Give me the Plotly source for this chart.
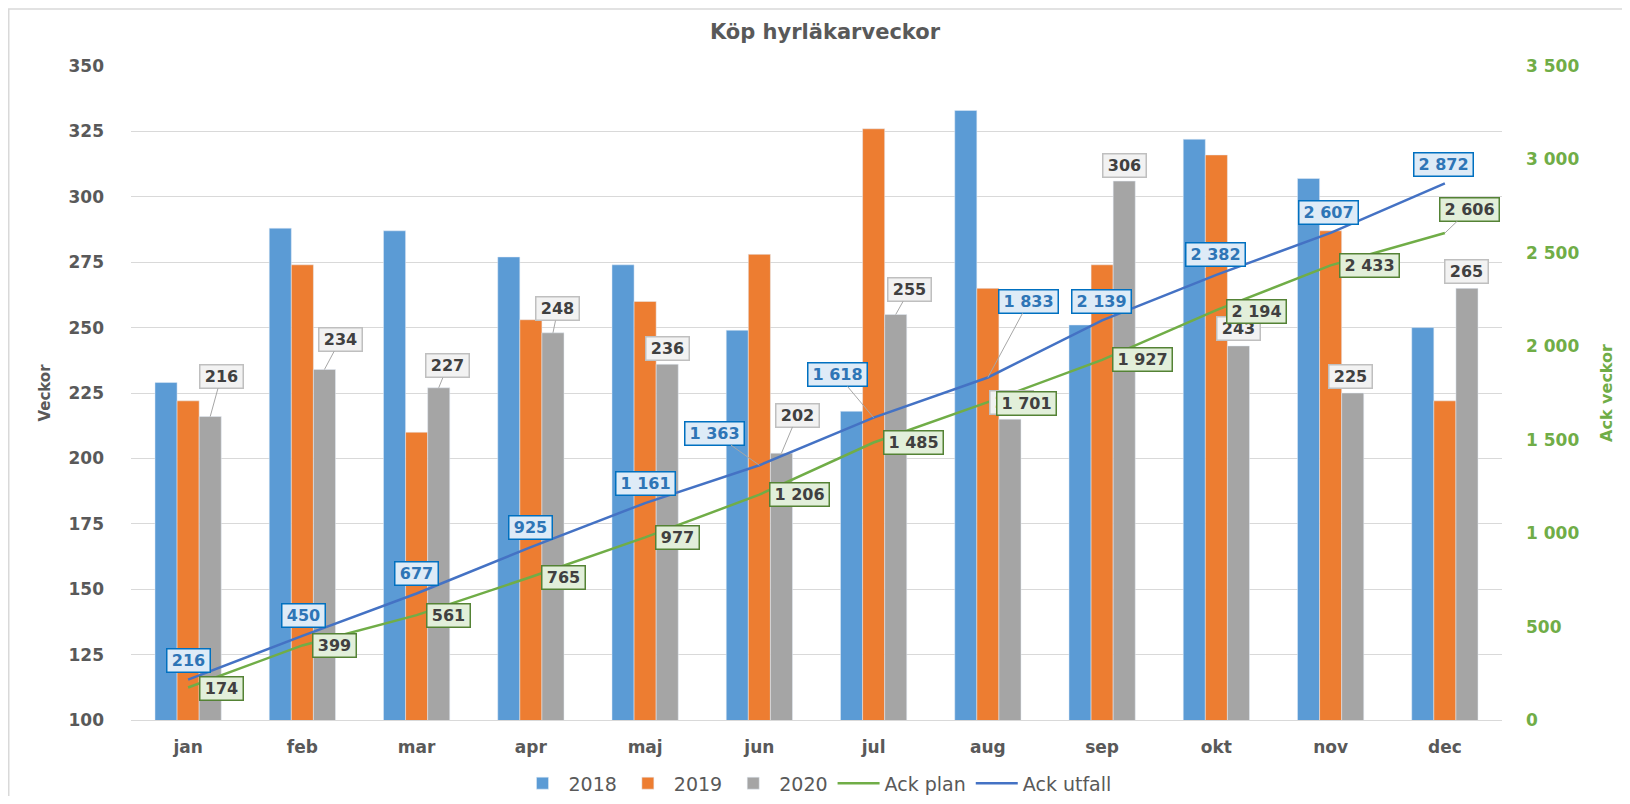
import plotly.graph_objects as go

# ---------------- data ----------------
months = ["jan", "feb", "mar", "apr", "maj", "jun", "jul", "aug", "sep", "okt", "nov", "dec"]
v2018 = [229, 288, 287, 277, 274, 249, 218, 333, 251, 322, 307, 250]
v2019 = [222, 274, 210, 253, 260, 278, 326, 265, 274, 316, 287, 222]
v2020 = [216, 234, 227, 248, 236, 202, 255, 215, 306, 243, 225, 265]
ack_plan = [174, 399, 561, 765, 977, 1206, 1485, 1701, 1927, 2194, 2433, 2606]
ack_utfall = [216, 450, 677, 925, 1161, 1363, 1618, 1833, 2139, 2382, 2607, 2872]
left_ticks = [100, 125, 150, 175, 200, 225, 250, 275, 300, 325, 350]
right_ticks = [0, 500, 1000, 1500, 2000, 2500, 3000, 3500]

# ---------------- label placement (pixel offsets of label boxes) ----------------
gray_off = [(11, -40), (16, -30), (9, -22), (5, -24), (0, -16), (16, -38),
            (14, -25), (2, -17), (0, -16), (0, -17), (-2, -17), (0, -17)]
gray_leader = [True, True, True, True, False, True, True, False, False, False, False, False]
blue_off = [(0, -19), (1, -20), (0, -20), (0, -20), (0, -20), (-45, -32),
            (-36, -43), (41, -76), (-1, -19), (-1, -20), (-2, -20), (-1, -19)]
blue_leader = [False, False, False, False, False, True, True, True, False, False, False, False]
green_off = [(33, 1), (32, 0), (32, 0), (33, 0), (32, 0), (40, 0),
             (40, 0), (39, 1), (40, 0), (40, 1), (39, 0), (25, -24)]
green_leader = [False] * 11 + [True]

C_BLUE = "#5B9BD5"
C_ORANGE = "#ED7D31"
C_GRAY = "#A5A5A5"
C_PLAN = "#70AD47"
C_UTF = "#4472C4"
TXT = "#595959"
FONT = "DejaVu Sans"
BARGAP = 0.42

W, H = 1614, 788
ML, MT, PW, PH = 123, 57.7, 1371, 654


def fmt(v):
    return f"{v:,}".replace(",", " ")


def box(text):
    return dict(width=8 * len(text) + 16, height=20, borderpad=1, borderwidth=1.5)


fig = go.Figure()
fig.add_trace(go.Bar(x=months, y=v2018, name="2018", marker_color=C_BLUE))
fig.add_trace(go.Bar(x=months, y=v2019, name="2019", marker_color=C_ORANGE))
fig.add_trace(go.Bar(x=months, y=v2020, name="2020", marker_color=C_GRAY))
fig.add_trace(go.Scatter(x=months, y=ack_plan, name="Ack plan", mode="lines",
                         line=dict(color=C_PLAN, width=2.5), yaxis="y2"))
fig.add_trace(go.Scatter(x=months, y=ack_utfall, name="Ack utfall", mode="lines",
                         line=dict(color=C_UTF, width=2.5), yaxis="y2"))

annotations = []
gray_shift = (1 - BARGAP) / 3.0
for i, v in enumerate(v2020):
    ax, ay = gray_off[i]
    t = str(v)
    annotations.append(dict(
        x=i + gray_shift, y=v, xref="x", yref="y", text=t,
        showarrow=True, ax=ax, ay=ay, arrowhead=0, arrowwidth=1, standoff=0,
        arrowcolor="#A6A6A6" if gray_leader[i] else "rgba(0,0,0,0)",
        font=dict(family=FONT, size=16, color="#404040", weight="bold"),
        bgcolor="#F2F2F2", bordercolor="#BFBFBF", **box(t)))
for i, v in enumerate(ack_utfall):
    ax, ay = blue_off[i]
    t = fmt(v)
    annotations.append(dict(
        x=i, y=v, xref="x", yref="y2", text=t,
        showarrow=True, ax=ax, ay=ay, arrowhead=0, arrowwidth=1, standoff=0,
        arrowcolor="#A6A6A6" if blue_leader[i] else "rgba(0,0,0,0)",
        font=dict(family=FONT, size=16, color="#2E75B6", weight="bold"),
        bgcolor="#DEEBF7", bordercolor="#0070C0", **box(t)))
for i, v in enumerate(ack_plan):
    ax, ay = green_off[i]
    t = fmt(v)
    annotations.append(dict(
        x=i, y=v, xref="x", yref="y2", text=t,
        showarrow=True, ax=ax, ay=ay, arrowhead=0, arrowwidth=1, standoff=0,
        arrowcolor="#A6A6A6" if green_leader[i] else "rgba(0,0,0,0)",
        font=dict(family=FONT, size=16, color="#404040", weight="bold"),
        bgcolor="#E2EFDA", bordercolor="#548235", **box(t)))

fig.update_layout(
    width=W, height=H,
    margin=dict(l=ML, r=W - ML - PW, t=MT, b=H - MT - PH, autoexpand=False),
    paper_bgcolor="white", plot_bgcolor="white",
    separators=", ",
    barmode="group", bargap=BARGAP, bargroupgap=0,
    font=dict(family=FONT, color=TXT),
    title=dict(text="Köp hyrläkarveckor", x=817 / W, xref="container",
               y=1 - 24 / H, yref="container", yanchor="middle", xanchor="center",
               font=dict(family=FONT, size=21, color=TXT, weight="bold")),
    xaxis=dict(type="category", showgrid=False, showline=True, linecolor="#D9D9D9",
               linewidth=1, ticks="", ticklabelstandoff=12,
               tickfont=dict(family=FONT, size=17, color=TXT, weight="bold")),
    yaxis=dict(range=[100, 350], tickvals=left_ticks, showgrid=True, gridcolor="#D9D9D9",
               gridwidth=1, zeroline=False, showline=False, ticks="", ticklabelstandoff=26,
               tickfont=dict(family=FONT, size=17, color=TXT, weight="bold"),
               title=dict(text="Veckor", standoff=14,
                          font=dict(family=FONT, size=15, color=TXT, weight="bold"))),
    yaxis2=dict(range=[0, 3500], tickvals=right_ticks, tickformat=",d", overlaying="y",
                side="right", showgrid=False, zeroline=False, showline=False, ticks="",
                ticklabelstandoff=23,
                tickfont=dict(family=FONT, size=17, color=C_PLAN, weight="bold"),
                title=dict(text="Ack veckor", standoff=22,
                           font=dict(family=FONT, size=16, color=C_PLAN, weight="bold"))),
    legend=dict(orientation="h", x=0.5, xanchor="center", y=(MT + PH - 775) / PH,
                yanchor="middle",
                font=dict(family=FONT, size=19, color=TXT), itemwidth=42,
                traceorder="normal", bgcolor="rgba(0,0,0,0)"),
    annotations=annotations,
    shapes=[dict(type="rect", xref="paper", yref="paper",
                 x0=(0.75 - ML) / PW, x1=(W + 40 - ML) / PW,
                 y0=(MT + PH - (H + 40)) / PH, y1=(MT + PH - 0.75) / PH,
                 line=dict(color="#D9D9D9", width=1.5), layer="below")],
)

fig.write_html("out.html")
